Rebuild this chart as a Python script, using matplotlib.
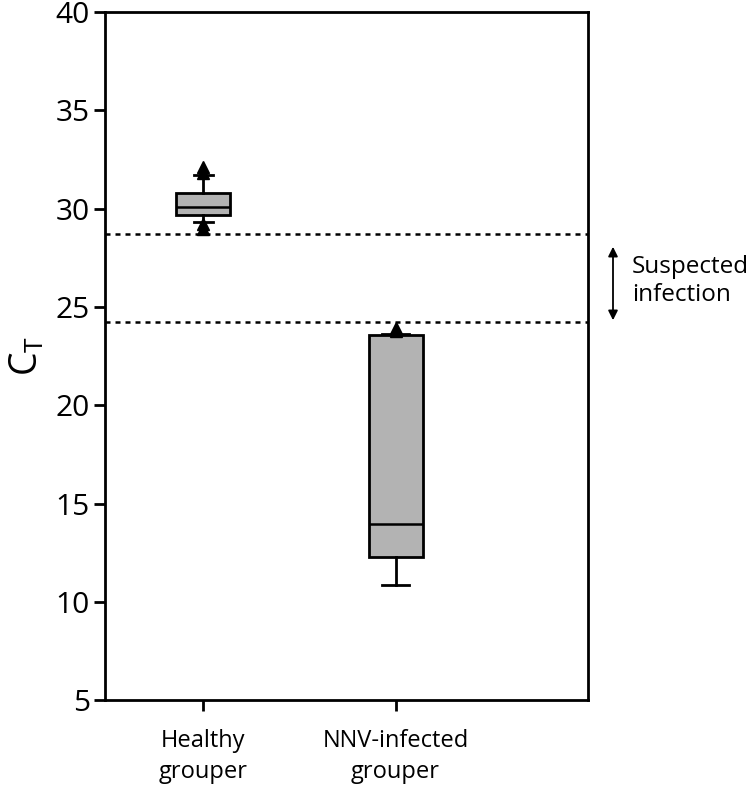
import matplotlib
matplotlib.use("Agg")
import matplotlib.pyplot as plt
from matplotlib.patches import FancyArrowPatch

plt.rcParams['font.family'] = ['Open Sans', 'DejaVu Sans']

categories = ["Healthy\ngrouper", "NNV-infected\ngrouper"]
q1 = [29.7, 12.3]
medians = [30.1, 13.95]
q3 = [30.8, 23.55]
whislo = [29.3, 10.85]
whishi = [31.7, 23.6]
fliers = [[31.8, 32.1, 29.2, 28.95], [23.95, 23.8]]
thresholds = [28.7, 24.25]
y_ticks = [5, 10, 15, 20, 25, 30, 35, 40]

fig = plt.figure(figsize=(7.5, 7.87), dpi=100)
ax = fig.add_axes([0.14, 0.1105, 0.644, 0.874])

stats = []
for i in range(len(categories)):
    stats.append(dict(med=medians[i], q1=q1[i], q3=q3[i], whislo=whislo[i],
                      whishi=whishi[i], fliers=fliers[i], label=categories[i]))

ax.bxp(stats, positions=[1, 2], widths=0.28, patch_artist=True, showfliers=True,
       boxprops=dict(facecolor='#b3b3b3', edgecolor='black', linewidth=2),
       medianprops=dict(color='black', linewidth=1.8),
       whiskerprops=dict(color='black', linewidth=2),
       capprops=dict(color='black', linewidth=2),
       capwidths=[0.1, 0.14],
       flierprops=dict(marker='^', markerfacecolor='black', markeredgecolor='black',
                       markersize=9, linestyle='none'))

for t in thresholds:
    ax.axhline(t, color='black', linestyle=(0, (2, 2)), linewidth=1.8)

ax.set_xlim(0.49, 3.0)
ax.set_ylim(5, 40)
ax.set_yticks(y_ticks)
ax.set_yticklabels([str(v) for v in y_ticks], fontsize=21.5)
ax.set_xticks([1, 2])
ax.set_xticklabels(categories, fontsize=17, linespacing=1.4)
ax.tick_params(axis='both', direction='out', length=8, width=2, colors='black')
ax.tick_params(axis='x', pad=13)
ax.tick_params(axis='y', pad=3)
for s in ax.spines.values():
    s.set_linewidth(2)

ax.set_ylabel(r'$\mathregular{C_T}$', fontsize=27, labelpad=6)

arrow = FancyArrowPatch((613 / 750, 1 - 244 / 787), (613 / 750, 1 - 323 / 787),
                        transform=fig.transFigure, arrowstyle='<|-|>', mutation_scale=14,
                        color='black', linewidth=1.3)
fig.patches.append(arrow)
fig.text(632 / 750, 1 - 281 / 787, "Suspected\ninfection", fontsize=17.5,
         ha='left', va='center', linespacing=1.2)

fig.savefig("out.png", dpi=100)
